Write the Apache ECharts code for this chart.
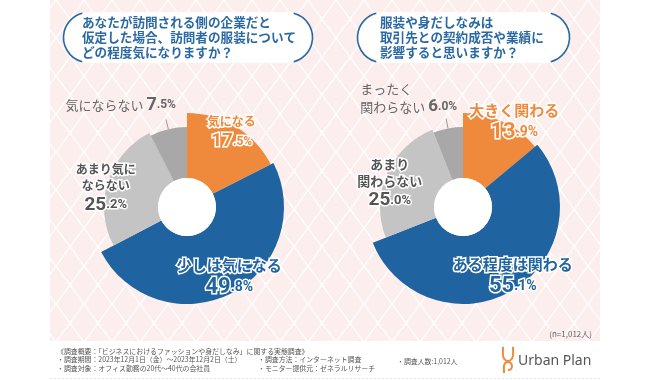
<!DOCTYPE html>
<html><head><meta charset="utf-8">
<script src="https://cdn.jsdelivr.net/npm/echarts@6/dist/echarts.min.js"></script>
<style>html,body{margin:0;padding:0;background:#fff}#c{width:650px;height:380px}</style>
</head><body><div id="c"></div>
<script>
// ---- data ----
const categories1 = ['気になる', '少しは気になる', 'あまり気にならない', '気にならない'];
const values1 = [17.5, 49.8, 25.2, 7.5];
const labelText1 = ['気になる', '少しは気になる', 'あまり気に\nならない', '気にならない'];
const categories2 = ['大きく関わる', 'ある程度は関わる', 'あまり関わらない', 'まったく関わらない'];
const values2 = [13.9, 55.1, 25.0, 6.0];
const labelText2 = ['大きく関わる', 'ある程度は関わる', 'あまり\n関わらない', 'まったく\n関わらない'];
const title1 = ['あなたが訪問される側の企業だと', '仮定した場合、訪問者の服装について', 'どの程度気になりますか？'];
const title2 = ['服装や身だしなみは', '取引先との契約成否や業績に', '影響すると思いますか？'];
const sampleNote = '(n=1,012人)';
const footerHead = '《調査概要：「ビジネスにおけるファッションや身だしなみ」に関する実態調査》';
const footerCol1 = ['・調査期間：2023年12月1日（金）～2023年12月2日（土）', '・調査対象：オフィス勤務の20代～40代の会社員'];
const footerCol2 = ['・調査方法：インターネット調査', '・モニター提供元：ゼネラルリサーチ'];
const footerCol3 = '・調査人数:1,012人';
const brand = 'Urban Plan';

// ---- styles ----
const JP = '"Noto Sans CJK JP","Noto Sans",sans-serif';
const COLORS = ['#ef8a3c', '#1f64a0', '#c4c4c4', '#a8a8a8'];
const TXT = ['#ef8a3c', '#1f64a0', '#555555', '#666666'];
const RADII = [94, 97, 83, 80];
const HOLE = 29;

function makeTile() {
  const c = document.createElement('canvas');
  c.width = 28; c.height = 38;
  const g = c.getContext('2d');
  g.fillStyle = '#fdeeee'; g.fillRect(0, 0, 28, 38);
  g.strokeStyle = '#ffffff'; g.lineWidth = 1.3;
  g.beginPath(); g.moveTo(-1, -1.36); g.lineTo(29, 39.36); g.moveTo(29, -1.36); g.lineTo(-1, 39.36); g.stroke();
  return c;
}

function labelStr(text, v, sameLine) {
  const s = v.toFixed(1).split('.');
  const lines = text.split('\n').map(l => '{t|' + l + '}');
  const num = '{b|' + s[0] + '}{s|.' + s[1] + '%}';
  if (sameLine) lines[lines.length - 1] += '{t| }' + num; else lines.push(num);
  return lines.join('\n');
}
function richStyle(color, c, border) {
  const base = { color: color, fontFamily: JP, fontWeight: 'bold', textBorderColor: border ? '#fff' : 'transparent', textBorderWidth: border ? 3 : 0 };
  if (c.align) base.align = c.align;
  return {
    t: Object.assign({}, base, { fontSize: c.ts, lineHeight: c.tl || c.ts + 4, fontWeight: c.tw || 'bold' }),
    b: Object.assign({}, base, { fontSize: c.bs, lineHeight: c.bl || c.bs + 2, fontFamily: 'Roboto,' + JP, letterSpacing: -1 }),
    s: Object.assign({}, base, { fontSize: c.ss, lineHeight: c.bl || c.bs + 2, fontFamily: 'Roboto,' + JP })
  };
}

function makePie(center, cats, vals, texts, cfg) {
  const series = [];
  for (let i = 0; i < vals.length; i++) {
    const c = cfg[i];
    series.push({
      type: 'pie', center: center, radius: [HOLE, RADII[i]], startAngle: 90, clockwise: true,
      silent: true, animation: false, avoidLabelOverlap: false, z: 2,
      itemStyle: { borderWidth: 0 },
      emphasis: { disabled: true },
      label: {
        show: true, position: c.outside ? 'outside' : 'inside',
        formatter: labelStr(texts[i], vals[i], c.sameLine),
        rich: richStyle(TXT[i], c, !c.outside)
      },
      labelLine: { show: !!c.outside, length: 10, length2: 0, lineStyle: { color: '#9a9a9a', width: 1 } },
      labelLayout: { dx: c.dx, dy: c.dy },
      data: vals.map((v, j) => ({
        name: cats[j], value: v,
        itemStyle: { color: j === i ? COLORS[i] : 'rgba(0,0,0,0)' },
        label: { show: j === i },
        labelLine: { show: j === i && !!c.outside }
      }))
    });
  }
  series.push({
    type: 'pie', center: center, radius: [0, HOLE], silent: true, animation: false, z: 3,
    label: { show: false }, labelLine: { show: false }, itemStyle: { color: '#fff', borderWidth: 0 },
    emphasis: { disabled: true },
    data: [{ name: 'hole', value: 1 }]
  });
  return series;
}

const cfg1 = [
  { ts: 12, bs: 19, ss: 12, tl: 17, bl: 23, dx: 11, dy: -19 },
  { ts: 15, bs: 22, ss: 14, dx: 12, dy: 12 },
  { ts: 12, bs: 19, ss: 13, tl: 16, bl: 24, dx: -25, dy: 0 },
  { ts: 13, bs: 18, ss: 12, dx: 15, dy: -14, outside: true, sameLine: true, tw: 'normal' }
];
const cfg2 = [
  { ts: 15, bs: 22, ss: 14, tl: 19, bl: 24, dx: 24, dy: -26 },
  { ts: 15, bs: 22, ss: 14, dx: 16, dy: 13 },
  { ts: 13, bs: 19, ss: 13, bl: 23, dx: -19, dy: 0 },
  { ts: 13, bs: 17, ss: 12, dx: 16, dy: -20, outside: true, sameLine: true, align: 'left', tw: 'normal' }
];

const tile = makeTile();
const BLUE_T = '#2a69a3';
function bubble(x, y, w, h, tx, lines) {
  const r = h / 2;
  const els = [
    { type: 'rect', shape: { x: x, y: y, width: w, height: h, r: r }, style: { fill: '#fff' }, z: 1 },
    { type: 'arc', shape: { cx: x + r, cy: y + r, r: r - 0.5, startAngle: Math.PI * 0.58, endAngle: Math.PI * 1.42 }, style: { stroke: BLUE_T, lineWidth: 1.6, fill: null }, z: 2 },
    { type: 'arc', shape: { cx: x + w - r, cy: y + r, r: r - 0.5, startAngle: -Math.PI * 0.42, endAngle: Math.PI * 0.42 }, style: { stroke: BLUE_T, lineWidth: 1.6, fill: null }, z: 2 }
  ];
  lines.forEach((l, k) => els.push({
    type: 'text', x: tx, y: y + 10.5 + k * 15, z: 3,
    style: { text: l, fill: BLUE_T, font: 'bold 12.6px ' + JP, textVerticalAlign: 'middle', textAlign: 'left' }
  }));
  return els;
}

const graphics = [
  { type: 'rect', shape: { x: 50, y: 0, width: 550, height: 341 }, style: { fill: { image: tile, repeat: 'repeat' } }, z: 0, silent: true },
  ...bubble(63, 12, 250, 51, 82, title1),
  ...bubble(357, 12, 213, 51, 380, title2),
  { type: 'text', x: 592, y: 334, style: { text: sampleNote, fill: '#666', font: '8px ' + JP, textAlign: 'right', textVerticalAlign: 'middle' } },
  { type: 'text', x: 57, y: 351, style: { text: footerHead, fill: '#555', font: '6.9px ' + JP, textVerticalAlign: 'middle' } },
  { type: 'text', x: 57, y: 359.5, style: { text: footerCol1[0], fill: '#555', font: '6.9px ' + JP, textVerticalAlign: 'middle' } },
  { type: 'text', x: 57, y: 368.5, style: { text: footerCol1[1], fill: '#555', font: '6.9px ' + JP, textVerticalAlign: 'middle' } },
  { type: 'text', x: 258, y: 359.5, style: { text: footerCol2[0], fill: '#555', font: '6.9px ' + JP, textVerticalAlign: 'middle' } },
  { type: 'text', x: 258, y: 368.5, style: { text: footerCol2[1], fill: '#555', font: '6.9px ' + JP, textVerticalAlign: 'middle' } },
  { type: 'text', x: 397, y: 361, style: { text: footerCol3, fill: '#555', font: '6.9px ' + JP, textVerticalAlign: 'middle' } },
  { type: 'polyline', shape: { points: [[503, 347], [503, 355], [504.2, 358.8], [508, 361], [511.8, 358.8], [513, 355], [513, 347]], smooth: 0.3 }, style: { stroke: '#f08a3c', lineWidth: 2, fill: null } },
  { type: 'polyline', shape: { points: [[504, 373], [504, 366], [505.3, 363], [508, 362], [510.7, 363], [512, 366], [510.8, 369.2], [508, 370]], smooth: 0.3 }, style: { stroke: '#f08a3c', lineWidth: 2, fill: null } },
  { type: 'text', x: 518, y: 361, style: { text: brand, fill: '#555', font: '14px "Noto Sans",sans-serif', textVerticalAlign: 'middle' } },
  { type: 'line', shape: { x1: 50, y1: 378.5, x2: 600, y2: 378.5 }, style: { stroke: '#e6e6e6', lineWidth: 1, lineDash: [2, 2] } }
];

const chart = echarts.init(document.getElementById('c'), null, { renderer: 'canvas' });
chart.setOption({
  backgroundColor: '#fff',
  animation: false,
  graphic: { elements: graphics },
  series: [
    ...makePie([187, 207], categories1, values1, labelText1, cfg1),
    ...makePie([463, 207], categories2, values2, labelText2, cfg2)
  ]
});
</script></body></html>
